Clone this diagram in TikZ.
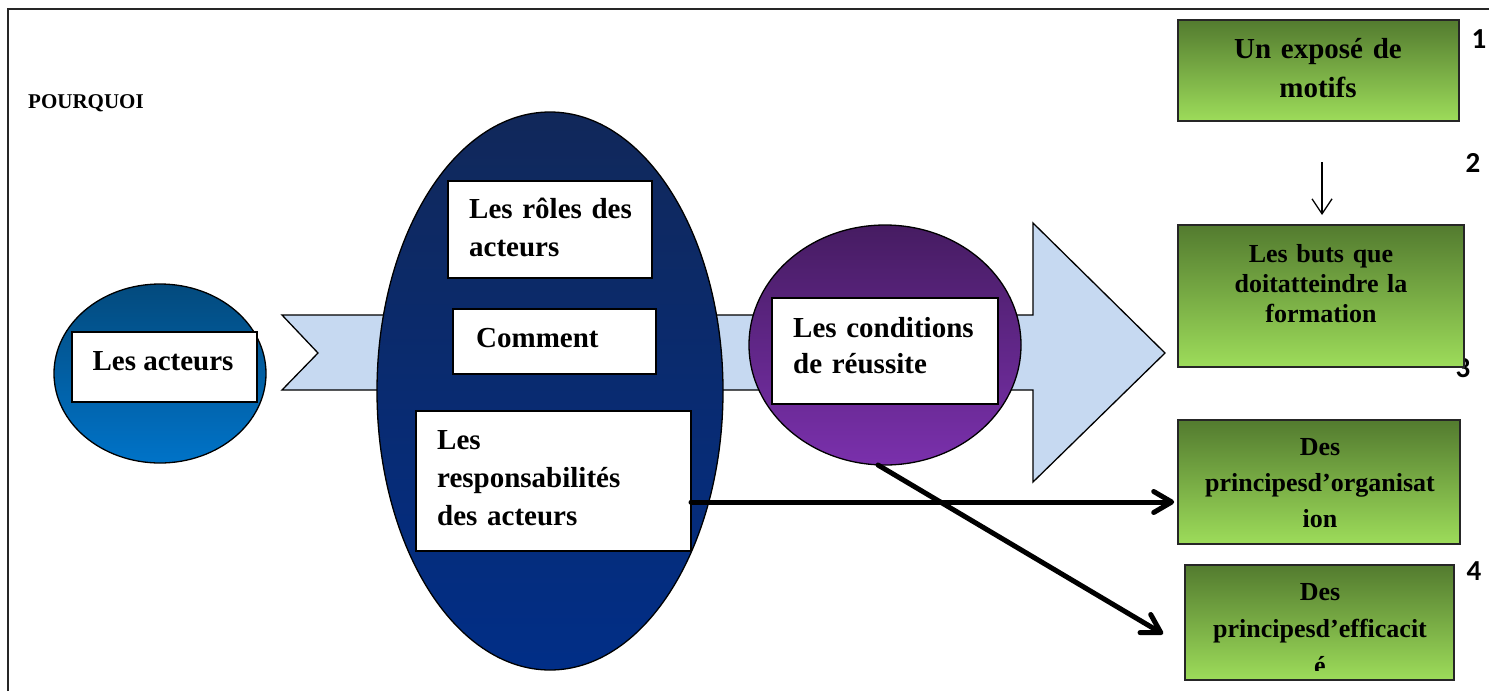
\documentclass[tikz,border=0pt]{standalone}
\usepackage{fontspec}
\setmainfont{Liberation Serif}
\newfontfamily\numfont{Carlito}
\usetikzlibrary{shapes.geometric,arrows.meta,calc}

% fills
\definecolor{chevfill}{HTML}{C6D9F1}
\definecolor{smalltop}{HTML}{034A7D}
\definecolor{smallbot}{HTML}{0073C8}
\definecolor{bigtop}{HTML}{11285A}
\definecolor{bigbot}{HTML}{012E87}
\definecolor{purptop}{HTML}{461C62}
\definecolor{purpbot}{HTML}{7A30AC}
\definecolor{greentop}{HTML}{537B2F}
\definecolor{greenbot}{HTML}{9DDC5A}

\tikzset{
  whitebox/.style={rectangle, draw=black, line width=1.8pt, fill=white, inner sep=0pt},
  greenbox/.style={rectangle, draw=black!85, line width=1.6pt, inner sep=0pt,
                   top color=greentop, bottom color=greenbot},
  blob/.style={ellipse, draw=black, line width=1.3pt, inner sep=0pt},
  bigtext/.style={font=\bfseries\fontsize{29}{38}\selectfont, inner sep=0pt},
  midtext/.style={font=\bfseries\fontsize{26}{30}\selectfont, inner sep=0pt},
  numtext/.style={font=\numfont\bfseries\fontsize{29}{29}\selectfont, inner sep=0pt, anchor=base},
  thickarrow/.style={line width=5pt, line cap=round,
                     -{Straight Barb[length=18pt,width=21pt,line cap=round,line join=round]}},
  thinarrow/.style={line width=1.3pt,
                    -{Straight Barb[length=15pt,width=20pt]}},
}

\begin{document}
\begin{tikzpicture}[x=1pt,y=-1pt]
\useasboundingbox (0,0) rectangle (1489,691);

% page frame
\draw[line width=2.2pt, black!85] (8,691) -- (8,9) -- (1489,9);

\node[font=\bfseries\fontsize{21}{21}\selectfont, inner sep=0pt, anchor=base west]
  (why) at (28,108) {POURQUOI};

% broad arrow running behind the ellipses
\filldraw[fill=chevfill, draw=black, line width=1.3pt, line join=miter]
  (282,315) -- (1033,315) -- (1033,223) -- (1165,353) -- (1033,482)
  -- (1033,390) -- (282,390) -- (318,353) -- cycle;

% actors
\node[blob, top color=smalltop, bottom color=smallbot,
      minimum width=212pt, minimum height=179pt] (actors) at (160,373.5) {};
\node[whitebox, minimum width=185pt, minimum height=70pt] (actorsbox) at (164.5,367) {};
\node[bigtext, anchor=base] (actorstxt) at (163,370) {Les acteurs};

% central ellipse with its three boxes
\node[blob, top color=bigtop, bottom color=bigbot,
      minimum width=346pt, minimum height=558pt] (big) at (550,391) {};
\node[whitebox, minimum width=204pt, minimum height=97pt] (roles) at (550,229.5) {};
\node[bigtext, anchor=base west, text width=180pt, align=left] (rolestxt) at (469,218)
  {Les rôles des\\acteurs};
\node[whitebox, minimum width=203pt, minimum height=65pt] (how) at (554.5,341.5) {};
\node[bigtext, anchor=base west] (howtxt) at (476,347) {Comment};
\node[whitebox, minimum width=275pt, minimum height=140pt] (resp) at (553.5,481) {};
\node[bigtext, anchor=base west, text width=250pt, align=left] (resptxt) at (437,449)
  {Les\\responsabilités\\des acteurs};

% success conditions
\node[blob, top color=purptop, bottom color=purpbot,
      minimum width=272pt, minimum height=240pt] (cond) at (885,345) {};
\node[whitebox, minimum width=226pt, minimum height=106pt] (condbox) at (885,351) {};
\node[bigtext, anchor=base west, text width=200pt, align=left,
      font=\bfseries\fontsize{29}{36}\selectfont] (condtxt) at (793,337)
  {Les conditions\\de réussite};

% step numbers (3 sits partly under box 2)
\node[numtext] (n1) at (1479,48) {1};
\node[numtext] (n2) at (1473,172) {2};
\node[numtext] (n3) at (1463,377) {3};
\node[numtext] (n4) at (1474,580) {4};

% green boxes
\node[greenbox, minimum width=281pt, minimum height=101pt] (b1) at (1318.5,70.5) {};
\node[bigtext, anchor=base, text width=270pt, align=center,
      font=\bfseries\fontsize{29}{39}\selectfont] (b1txt) at (1318,58)
  {Un exposé de\\motifs};

\node[greenbox, minimum width=286pt, minimum height=142pt] (b2) at (1321,296) {};
\node[midtext, anchor=base, text width=276pt, align=center] (b2txt) at (1321,262)
  {Les buts que\\doitatteindre la\\formation};

\node[greenbox, minimum width=282pt, minimum height=124pt] (b3) at (1319,482) {};
\node[midtext, anchor=base, text width=276pt, align=center,
      font=\bfseries\fontsize{26}{36}\selectfont] (b3txt) at (1320,455)
  {Des\\principesd’organisat\\ion};

\node[greenbox, minimum width=269pt, minimum height=115pt] (b4) at (1319.5,622.5) {};
\begin{scope}
  \clip (b4.north west) rectangle ([yshift=10pt]b4.south east);
  \node[midtext, anchor=base, text width=262pt, align=center,
        font=\bfseries\fontsize{26}{37}\selectfont] (b4txt) at (1320,600)
    {Des\\principesd’efficacit\\é};
\end{scope}

% connectors
\coordinate (a1s) at (1322,162);
\coordinate (a1e) at (1322,215);
\draw[thinarrow] (a1s) -- (a1e);

\coordinate (h1) at (691,502);
\draw[thickarrow, shorten >=3pt] (h1) -- (h1 -| b3.west);

\coordinate (d1s) at (878,465);
\coordinate (d1e) at (1163,634);
\draw[thickarrow] (d1s) -- (d1e);
\end{tikzpicture}
\end{document}
